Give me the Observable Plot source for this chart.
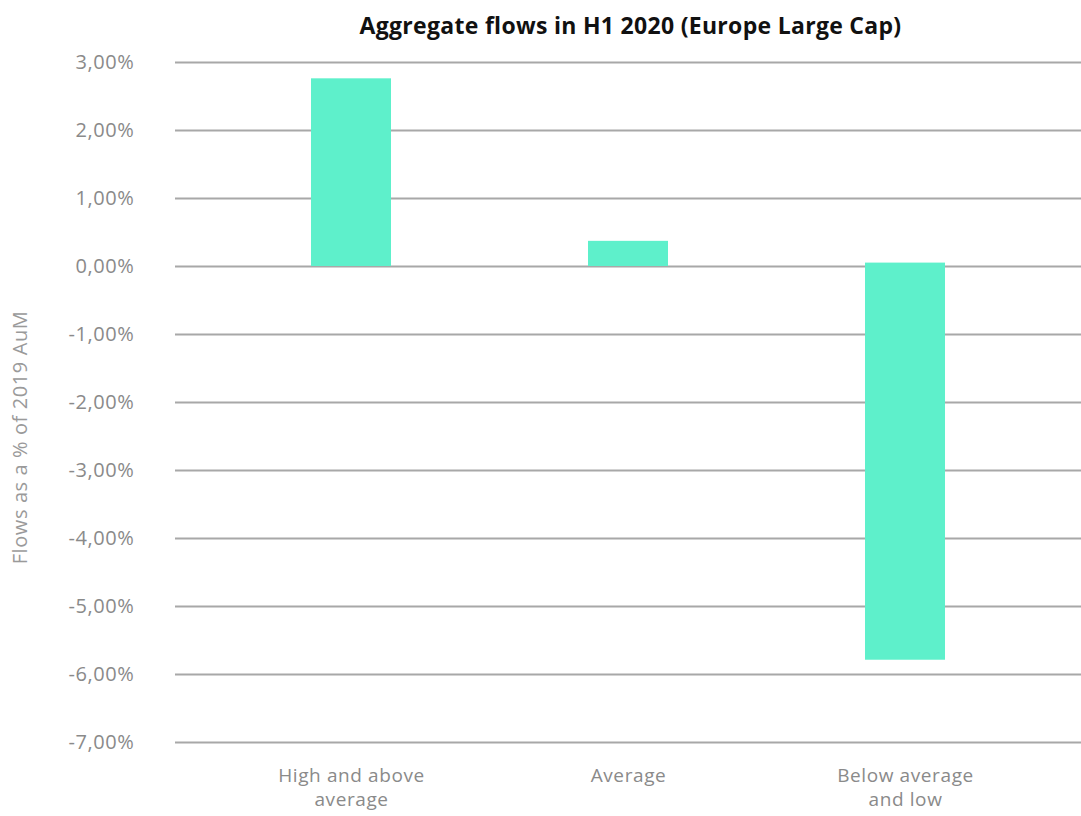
<!DOCTYPE html>
<html>
<head>
<meta charset="utf-8">
<script src="https://cdn.jsdelivr.net/npm/d3@7"></script>
<script src="https://cdn.jsdelivr.net/npm/@observablehq/plot@0.6"></script>
<style>
  html, body { margin: 0; padding: 0; background: #fff; }
  #title { height: 44px; box-sizing: border-box; padding-top: 11px; padding-left: 180px; text-align: center; font-family: "Open Sans", sans-serif; font-weight: bold; font-size: 23px; letter-spacing: 0.3px; color: #111; line-height: 28px; }
</style>
</head>
<body>
<div id="title">Aggregate flows in H1 2020 (Europe Large Cap)</div>
<div id="chart"></div>
<script>
const categories = ["High and above\naverage", "Average", "Below average\nand low"];
const barStart = [0, 0, 0.05];
const barEnd = [2.76, 0.37, -5.79];
const yTicks = [3, 2, 1, 0, -1, -2, -3, -4, -5, -6, -7];
const yLabel = "Flows as a % of 2019 AuM";

const data = categories.map((c, i) => ({cat: c, y1: barStart[i], y2: barEnd[i]}));
const fmt = d => d.toFixed(2).replace(".", ",") + "%";

const chart = Plot.plot({
  width: 1081,
  height: 772,
  marginTop: 18,
  marginBottom: 74,
  marginLeft: 175,
  marginRight: 0,
  style: {fontFamily: "'Open Sans', sans-serif", fontSize: "20px", letterSpacing: "0.6px", color: "#8a8a8a", background: "#fff"},
  x: {domain: categories, paddingInner: 0.711, paddingOuter: 0.49, label: null},
  y: {domain: [-7, 3], label: null},
  marks: [
    Plot.ruleY(yTicks, {stroke: "#a8a8a8", strokeWidth: 2}),
    Plot.barY(data, {x: "cat", y1: "y1", y2: "y2", fill: "#5EF0CB"}),
    Plot.axisY(yTicks, {tickSize: 0, tickPadding: 41, tickFormat: fmt, fill: "#8a8a8a", fontSize: 20, label: null}),
    Plot.axisX({tickSize: 0, tickPadding: 22, fill: "#8a8a8a", fontSize: 19, lineHeight: 1.28, label: null}),
    Plot.text([yLabel], {frameAnchor: "left", dx: -155, dy: 35, rotate: -90, textAnchor: "middle", fill: "#9a9a9a", fontSize: 20})
  ]
});
document.getElementById("chart").appendChild(chart);
</script>
</body>
</html>
